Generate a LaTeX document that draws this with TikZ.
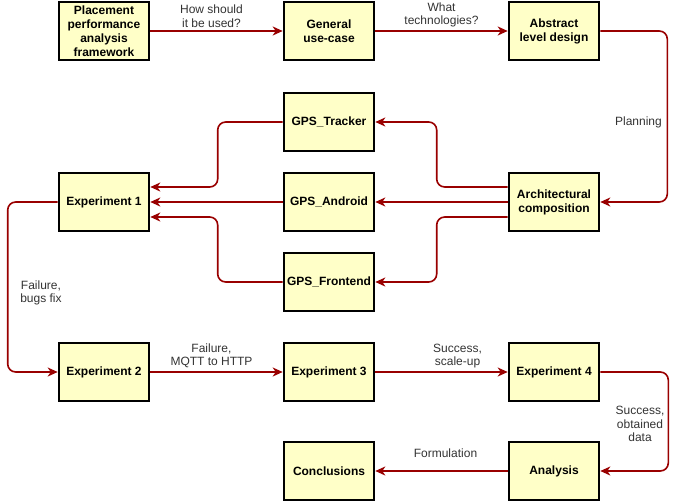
\documentclass[tikz,border=0pt]{standalone}
\usepackage{fontspec}
\setmainfont{Liberation Sans}
\usetikzlibrary{arrows.meta}
\definecolor{boxfill}{HTML}{FFFFC8}
\definecolor{arrred}{HTML}{990000}
\definecolor{lblcol}{HTML}{333333}
\tikzset{
  box/.style={draw=black, line width=2.6pt, fill=boxfill, minimum width=90pt, minimum height=58pt,
    align=center, inner sep=1pt, font=\fontsize{12}{14}\selectfont\bfseries},
  arr/.style={draw=arrred, line width=1.6pt, rounded corners=8pt,
    -{Stealth[length=10pt,width=9pt,inset=3pt]}},
  lbl/.style={text=lblcol, align=center, inner sep=1pt, font=\fontsize{12}{13.5}\selectfont}
}
\begin{document}
\begin{tikzpicture}[x=1pt,y=-1pt]
\useasboundingbox (0,0) rectangle (677,503);
% nodes
\node[box] (pl) at (104,31) {Placement\\performance\\analysis\\framework};
\node[box] (gu) at (329,31) {General\\use-case};
\node[box] (ab) at (554,31) {Abstract\\level design};
\node[box] (tr) at (329,122) {GPS\_Tracker};
\node[box] (an) at (329,202) {GPS\_Android};
\node[box] (fr) at (329,282) {GPS\_Frontend};
\node[box] (e1) at (104,202) {Experiment 1};
\node[box] (ac) at (554,202) {Architectural\\composition};
\node[box] (e2) at (104,372) {Experiment 2};
\node[box] (e3) at (329,372) {Experiment 3};
\node[box] (e4) at (554,372) {Experiment 4};
\node[box] (co) at (329,471) {Conclusions};
\node[box] (ana) at (554,471) {Analysis};
% connectors
\draw[arr] (pl) -- node[lbl, above=2pt, xshift=-5pt] {How should\\it be used?} (gu);
\draw[arr] (gu) -- node[lbl, above=2pt] {What\\technologies?} (ab);
\draw[arr] (ab.east) -- ++(67,0) |- (ac.east);
\node[lbl, anchor=east] (plan) at (663,122) {Planning};
\draw[arr] ([yshift=15pt]ac.west) -- ++(-71,0) |- (tr.east);
\draw[arr] (ac) -- (an);
\draw[arr] ([yshift=-15pt]ac.west) -- ++(-71,0) |- (fr.east);
\draw[arr] (tr.west) -- ++(-65,0) |- ([yshift=15pt]e1.east);
\draw[arr] (an) -- (e1);
\draw[arr] (fr.west) -- ++(-65,0) |- ([yshift=-15pt]e1.east);
\draw[arr] (e1.west) -- ++(-50,0) |- (e2.west);
\node[lbl] (fbf) at (41,293) {Failure,\\bugs fix};
\draw[arr] (e2) -- node[lbl, above=2pt, xshift=-5pt] {Failure,\\MQTT to HTTP} (e3);
\draw[arr] (e3) -- node[lbl, above=2pt, xshift=16pt] {Success,\\scale-up} (e4);
\draw[arr] (e4.east) -- ++(68,0) |- (ana.east);
\node[lbl] (sod) at (640,424) {Success,\\obtained\\data};
\draw[arr] (ana) -- node[lbl, above=12pt, xshift=4pt] {Formulation} (co);
\end{tikzpicture}
\end{document}
